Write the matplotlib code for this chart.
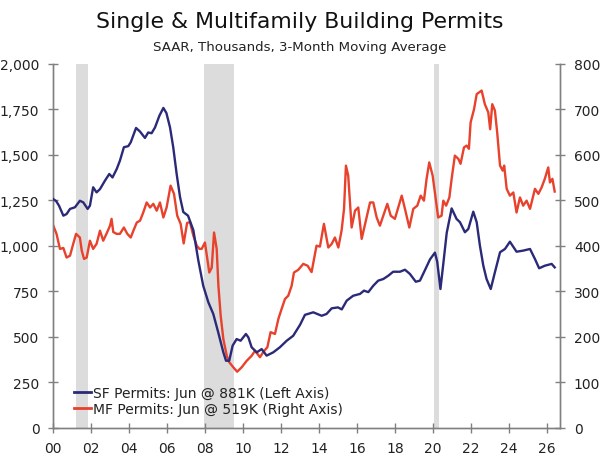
import matplotlib
matplotlib.use("Agg")
import matplotlib.pyplot as plt

# ---------------- data ----------------
sf_dates = [2000.00, 2000.15, 2000.30, 2000.53, 2000.70, 2000.88, 2001.14, 2001.40, 2001.58, 2001.81,
            2001.93, 2002.10, 2002.28, 2002.46, 2002.72, 2002.95, 2003.12, 2003.34, 2003.51, 2003.72,
            2003.95, 2004.08, 2004.36, 2004.57, 2004.83, 2005.00, 2005.18, 2005.36, 2005.59, 2005.80,
            2005.96, 2006.15, 2006.32, 2006.50, 2006.68, 2006.85, 2007.10, 2007.38, 2007.64, 2007.90,
            2008.17, 2008.43, 2008.69, 2008.96, 2009.10, 2009.27, 2009.45, 2009.66, 2009.87, 2010.15,
            2010.28, 2010.45, 2010.72, 2010.98, 2011.24, 2011.59, 2011.94, 2012.30, 2012.64, 2013.00,
            2013.26, 2013.70, 2014.14, 2014.40, 2014.67, 2015.00, 2015.20, 2015.46, 2015.80, 2016.16,
            2016.37, 2016.60, 2016.86, 2017.12, 2017.39, 2017.65, 2017.91, 2018.27, 2018.53, 2018.79,
            2019.10, 2019.32, 2019.58, 2019.85, 2020.11, 2020.23, 2020.40, 2020.55, 2020.73, 2020.99,
            2021.25, 2021.43, 2021.69, 2021.87, 2022.13, 2022.31, 2022.48, 2022.66, 2022.83, 2023.05,
            2023.27, 2023.54, 2023.80, 2024.06, 2024.41, 2024.76, 2025.12, 2025.38, 2025.60, 2025.90,
            2026.26, 2026.42]
sf_values = [1256, 1245, 1220, 1165, 1174, 1202, 1211, 1247, 1238, 1202,
             1220, 1321, 1293, 1311, 1357, 1394, 1375, 1421, 1467, 1541,
             1547, 1568, 1647, 1627, 1592, 1622, 1618, 1650, 1714, 1757,
             1729, 1650, 1541, 1394, 1266, 1185, 1165, 1085, 920, 780,
             689, 625, 524, 414, 368, 368, 451, 487, 478, 515,
             496, 442, 414, 432, 396, 414, 442, 478, 505, 565,
             620, 634, 615, 625, 656, 661, 650, 698, 725, 735,
             753, 745, 780, 808, 817, 835, 857, 857, 868, 845,
             802, 808, 865, 925, 962, 912, 762, 900, 1070, 1205,
             1147, 1129, 1074, 1092, 1187, 1129, 1000, 890, 817, 762,
             854, 964, 982, 1022, 967, 973, 982, 927, 876, 890,
             900, 881]

mf_dates = [2000.00, 2000.17, 2000.35, 2000.53, 2000.70, 2000.88, 2001.05, 2001.20, 2001.40, 2001.50,
            2001.62, 2001.76, 2001.93, 2002.10, 2002.28, 2002.46, 2002.63, 2002.80, 2002.99, 2003.07,
            2003.16, 2003.34, 2003.51, 2003.72, 2003.90, 2004.08, 2004.22, 2004.40, 2004.57, 2004.74,
            2004.92, 2005.10, 2005.27, 2005.45, 2005.62, 2005.80, 2005.97, 2006.18, 2006.36, 2006.53,
            2006.71, 2006.87, 2007.05, 2007.20, 2007.38, 2007.56, 2007.70, 2007.82, 2007.99, 2008.22,
            2008.35, 2008.47, 2008.61, 2008.70, 2008.82, 2008.96, 2009.14, 2009.27, 2009.48, 2009.69,
            2009.93, 2010.19, 2010.45, 2010.63, 2010.89, 2011.06, 2011.28, 2011.45, 2011.68, 2011.86,
            2012.03, 2012.21, 2012.38, 2012.56, 2012.68, 2012.91, 2013.17, 2013.40, 2013.61, 2013.87,
            2014.05, 2014.26, 2014.49, 2014.67, 2014.84, 2015.02, 2015.19, 2015.32, 2015.42, 2015.54,
            2015.72, 2015.90, 2016.07, 2016.25, 2016.51, 2016.69, 2016.86, 2017.04, 2017.21, 2017.42,
            2017.60, 2017.78, 2018.00, 2018.36, 2018.53, 2018.76, 2018.97, 2019.18, 2019.36, 2019.53,
            2019.67, 2019.81, 2019.99, 2020.16, 2020.28, 2020.46, 2020.55, 2020.70, 2020.87, 2020.99,
            2021.16, 2021.34, 2021.46, 2021.64, 2021.78, 2021.90, 2021.99, 2022.17, 2022.31, 2022.57,
            2022.74, 2022.92, 2023.02, 2023.13, 2023.27, 2023.39, 2023.54, 2023.68, 2023.76, 2023.89,
            2024.06, 2024.24, 2024.41, 2024.59, 2024.76, 2024.94, 2025.12, 2025.38, 2025.56, 2025.73,
            2025.90, 2026.08, 2026.17, 2026.30, 2026.42]
mf_values = [444, 426, 393, 395, 374, 378, 404, 426, 418, 389,
             371, 374, 411, 393, 404, 433, 411, 426, 444, 459,
             430, 426, 426, 440, 426, 418, 433, 451, 455, 473,
             495, 484, 492, 477, 495, 462, 484, 532, 514, 466,
             448, 405, 450, 452, 422, 400, 393, 393, 407, 341,
             352, 429, 393, 312, 246, 195, 158, 144, 133, 123,
             133, 147, 158, 169, 155, 166, 177, 210, 206, 239,
             261, 283, 290, 312, 341, 347, 360, 356, 342, 400,
             398, 448, 396, 404, 418, 396, 433, 481, 576, 554,
             440, 477, 484, 415, 462, 495, 495, 462, 444, 470,
             492, 466, 459, 510, 481, 440, 481, 488, 510, 499,
             547, 583, 554, 500, 462, 466, 499, 488, 506, 547,
             598, 591, 580, 616, 620, 613, 671, 700, 733, 741,
             711, 693, 656, 711, 697, 649, 576, 565, 576, 525,
             510, 517, 473, 506, 488, 499, 481, 525, 514, 528,
             547, 572, 539, 547, 519]

recession_starts = [2001.17, 2007.92, 2020.08]
recession_ends = [2001.83, 2009.50, 2020.33]

x_ticks = list(range(2000, 2027, 2))
x_tick_labels = ["00", "02", "04", "06", "08", "10", "12", "14", "16", "18", "20", "22", "24", "26"]
left_ticks = [0, 250, 500, 750, 1000, 1250, 1500, 1750, 2000]
right_ticks = [0, 100, 200, 300, 400, 500, 600, 700, 800]

sf_label = "SF Permits: Jun @ 881K (Left Axis)"
mf_label = "MF Permits: Jun @ 519K (Right Axis)"
title = "Single & Multifamily Building Permits"
subtitle = "SAAR, Thousands, 3-Month Moving Average"

# ---------------- plot ----------------
plt.rcParams['font.family'] = ['DejaVu Sans']
SF_COLOR = "#2B2A78"
MF_COLOR = "#E8412C"
SPINE = "#808080"
TXT = "#222222"

fig = plt.figure(figsize=(6.0, 4.6), dpi=100)
ax = fig.add_axes([53.3 / 600, 1 - 428.7 / 460, (560 - 53.3) / 600, (428.7 - 64.7) / 460])
ax2 = ax.twinx()

# shading on the lower (right-axis) layer so both lines are drawn over it
for s, e in zip(recession_starts, recession_ends):
    ax2.axvspan(s, e, color="#DCDCDC", lw=0, zorder=0)

l2, = ax2.plot(mf_dates, mf_values, color=MF_COLOR, lw=1.7, label=mf_label, zorder=3)
l1, = ax.plot(sf_dates, sf_values, color=SF_COLOR, lw=1.7, label=sf_label, zorder=3)
ax.set_zorder(ax2.get_zorder() + 1)
ax.patch.set_visible(False)

ax.set_xlim(2000, 2026.7)
ax.set_ylim(0, 2000)
ax2.set_ylim(0, 800)

ax.set_xticks(x_ticks)
ax.set_xticklabels(x_tick_labels)
ax.set_yticks(left_ticks)
ax.set_yticklabels([f"{v:,}" for v in left_ticks])
ax2.set_yticks(right_ticks)
ax2.set_yticklabels([str(v) for v in right_ticks])

for a in (ax, ax2):
    a.spines['top'].set_visible(False)
    for sp in ('left', 'right', 'bottom'):
        a.spines[sp].set_color(SPINE)
        a.spines[sp].set_linewidth(1.0)
    a.tick_params(axis='y', direction='inout', length=7, width=1.0, color=SPINE,
                  labelsize=10, labelcolor=TXT, pad=6.5)
    a.tick_params(axis='x', direction='inout', length=7, width=1.0, color=SPINE,
                  labelsize=10, labelcolor=TXT, pad=6)

leg = ax.legend(handles=[l1, l2], loc='lower left', bbox_to_anchor=(0.03, 0.018),
                frameon=False, fontsize=10, handlelength=1.25, handletextpad=0.1,
                labelspacing=0.1, borderaxespad=0.0)
for t in leg.get_texts():
    t.set_color(TXT)
for h in leg.get_lines():
    h.set_linewidth(2.0)

fig.text(0.5, 1 - 22 / 460, title, ha='center', va='center', fontsize=15.8, color="#111111")
fig.text(0.5, 1 - 47 / 460, subtitle, ha='center', va='center', fontsize=9.6, color=TXT)

fig.savefig("out.png", dpi=100)
